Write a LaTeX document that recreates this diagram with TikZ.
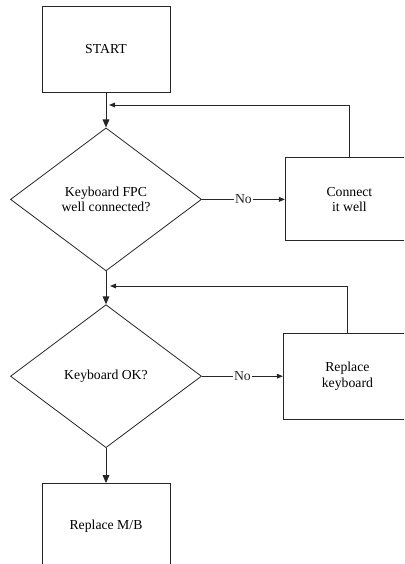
\documentclass[tikz,border=0pt]{standalone}
\usepackage{fontspec}
\setmainfont{Liberation Serif}
\usetikzlibrary{shapes.geometric, arrows.meta, positioning}

\begin{document}
\begin{tikzpicture}[
  x=0.75pt, y=-0.75pt,
  every node/.style={font=\fontsize{10.3}{11.8}\selectfont},
  flowstep/.style={rectangle, draw=black!85, line width=0.75pt,
               minimum width=96pt, minimum height=64.5pt, align=center},
  decision/.style={diamond, draw=black!85, line width=0.6pt,
                   minimum width=143.25pt, minimum height=107.25pt,
                   aspect=1.34, inner sep=0pt, align=center},
  arr/.style={-{Triangle[length=6pt, width=5pt]}, line width=0.75pt, black!85},
  noarr/.style={-{Triangle[length=4.5pt, width=3.5pt]}, line width=0.75pt, black!85},
  nolabel/.style={fill=white, inner sep=1pt},
]
  \clip (0,0) rectangle (404,564);

  \node[flowstep] (start) at (106,49) {START};
  \node[decision, below=26.25pt of start] (fpc)
        {Keyboard FPC\\well connected?};
  \node[flowstep, right=62.25pt of fpc, minimum height=62.25pt] (connect)
        {Connect\\it well};
  \node[decision, below=24.75pt of fpc] (kbd) {Keyboard OK?};
  \node[flowstep, right=60.75pt of kbd] (replkbd)
        {Replace\\keyboard};
  \node[flowstep, below=26.25pt of kbd] (mb) {Replace M/B};

  % loop-back points
  \coordinate (back1) at (109,105);
  \coordinate (back2) at (110,286);

  % Arrows main flow
  \foreach \a/\b in {start/fpc, fpc/kbd, kbd/mb}
    \draw[arr] (\a) -- (\b);

  % No branches
  \draw[noarr] (fpc.east) -- node[nolabel]{No} (connect.west);
  \draw[noarr] (kbd.east) -- node[nolabel]{No} (replkbd.west);
  \draw[noarr] (connect.north) |- (back1);
  \draw[noarr] (replkbd.north) |- (back2);

\end{tikzpicture}
\end{document}
